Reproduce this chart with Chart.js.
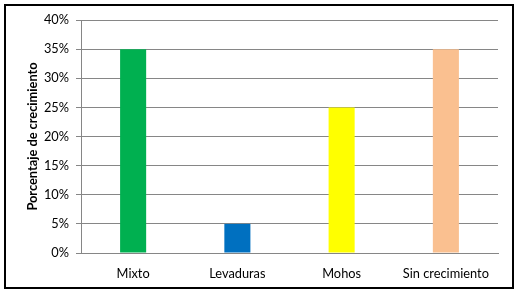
<!DOCTYPE html>
<html>
<head>
<meta charset="utf-8">
<script src="https://cdn.jsdelivr.net/npm/chart.js@4"></script>
<style>
  html, body { margin: 0; padding: 0; background: #fff; }
  #wrap { width: 518px; height: 297px; position: relative; }
</style>
</head>
<body>
<div id="wrap"><canvas id="chart" width="518" height="297"></canvas></div>
<script>
// datos del gráfico
const categorias = ['Mixto', 'Levaduras', 'Mohos', 'Sin crecimiento'];
const porcentajes = [0.35, 0.05, 0.25, 0.35];
const colores = ['#00B050', '#0070C0', '#FFFF00', '#FAC090'];
const ticksY = [0, 0.05, 0.10, 0.15, 0.20, 0.25, 0.30, 0.35, 0.40];

const FUENTE = 'Lato, "Open Sans", sans-serif';

// marco negro alrededor del gráfico
const marco = {
    id: 'marco',
    afterDraw(chart) {
        const ctx = chart.ctx;
        ctx.save();
        ctx.strokeStyle = '#000';
        ctx.lineWidth = 2;
        ctx.strokeRect(5, 5, 508, 283);
        ctx.restore();
    }
};

new Chart(document.getElementById('chart'), {
    type: 'bar',
    data: {
        labels: categorias,
        datasets: [{
            data: porcentajes,
            backgroundColor: colores,
            borderWidth: 0,
            barPercentage: 0.25,
            categoryPercentage: 1
        }]
    },
    options: {
        responsive: false,
        animation: false,
        layout: { padding: { left: 0, right: 20, top: 20, bottom: 0 } },
        plugins: {
            legend: { display: false },
            tooltip: { enabled: false }
        },
        scales: {
            x: {
                grid: { display: false, drawTicks: false },
                border: { color: '#868686', width: 1 },
                ticks: { color: '#000', padding: 13, font: { family: FUENTE, size: 12.8 } },
                afterFit(scale) { scale.height = 44; }
            },
            y: {
                min: 0,
                max: 0.4,
                afterBuildTicks(scale) { scale.ticks = ticksY.map(v => ({ value: v })); },
                grid: { color: '#868686', tickLength: 5 },
                border: { color: '#868686', width: 1 },
                ticks: {
                    color: '#000',
                    padding: 7,
                    font: { family: FUENTE, size: 12.8 },
                    callback: v => Math.round(v * 100) + '%'
                },
                title: {
                    display: true,
                    text: 'Porcentaje de crecimiento',
                    color: '#000',
                    font: { family: FUENTE, size: 12.8, weight: 'bold' },
                    padding: { top: 25, bottom: 0 }
                },
                afterFit(scale) { scale.width = 81; }
            }
        }
    },
    plugins: [marco]
});
</script>
</body>
</html>
